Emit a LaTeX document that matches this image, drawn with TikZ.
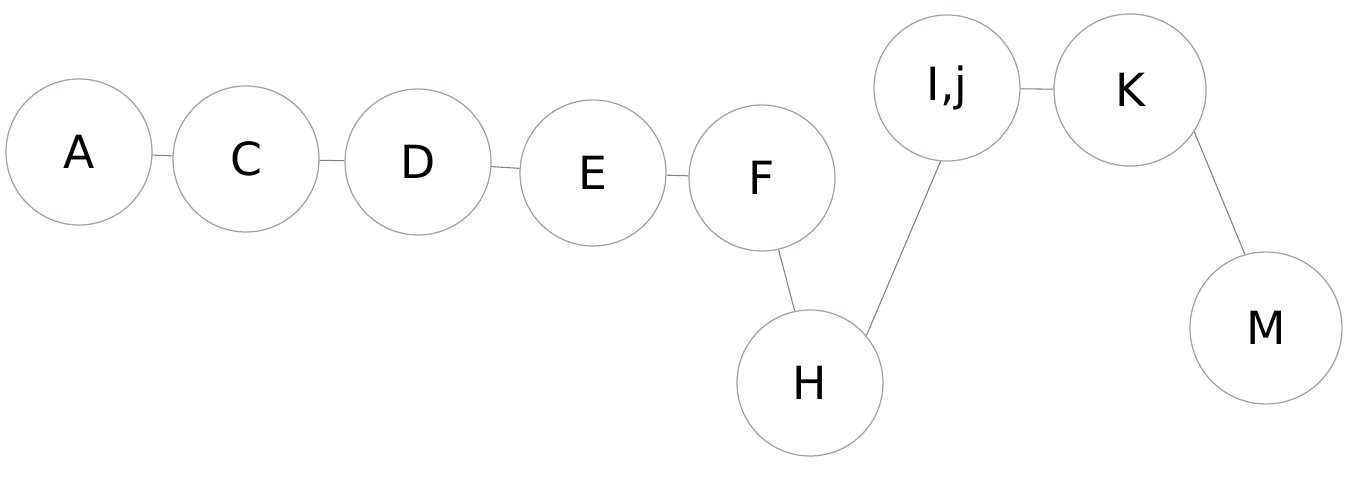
\documentclass[tikz,border=0pt]{standalone}
\usepackage{fontspec}
\setmainfont{DejaVu Sans}
\begin{document}
\begin{tikzpicture}[
    letter node/.style={circle,draw=pencil,line width=0.7pt,minimum size=2.92cm,inner sep=0pt,font=\fontsize{26}{30}\selectfont},
    big letter node/.style={letter node,minimum size=3.04cm},
    link/.style={draw=pencil!80!black,line width=0.6pt} ]
    \definecolor{pencil}{RGB}{170,158,158}
    \useasboundingbox (0,0) rectangle (27.02,9.76);
    \node at (1.58,6.72) [letter node] (A) {A};
    \node at (4.92,6.58) [letter node] (C) {C};
    \node at (8.36,6.52) [letter node] (D) {D};
    \node at (11.86,6.30) [letter node] (E) {E};
    \node at (15.24,6.20) [letter node] (F) {F};
    \node at (16.20,2.10) [letter node] (H) {H};
    \node at (18.94,8.00) [letter node] (Ij) {I,j};
    \node at (22.60,7.96) [big letter node] (K) {K};
    \node at (25.32,3.20) [big letter node] (M) {M};
    \draw [link] (A) to (C);
    \draw [link] (C) to (D);
    \draw [link] (D) to (E);
    \draw [link] (E) to (F);
    \draw [link] (F.-77) to (H.102);
    \draw [link] (H.40) to (Ij.-95);
    \draw [link] (Ij) to (K);
    \draw [link] (K.-33) to (M.106);
\end{tikzpicture}
\end{document}
